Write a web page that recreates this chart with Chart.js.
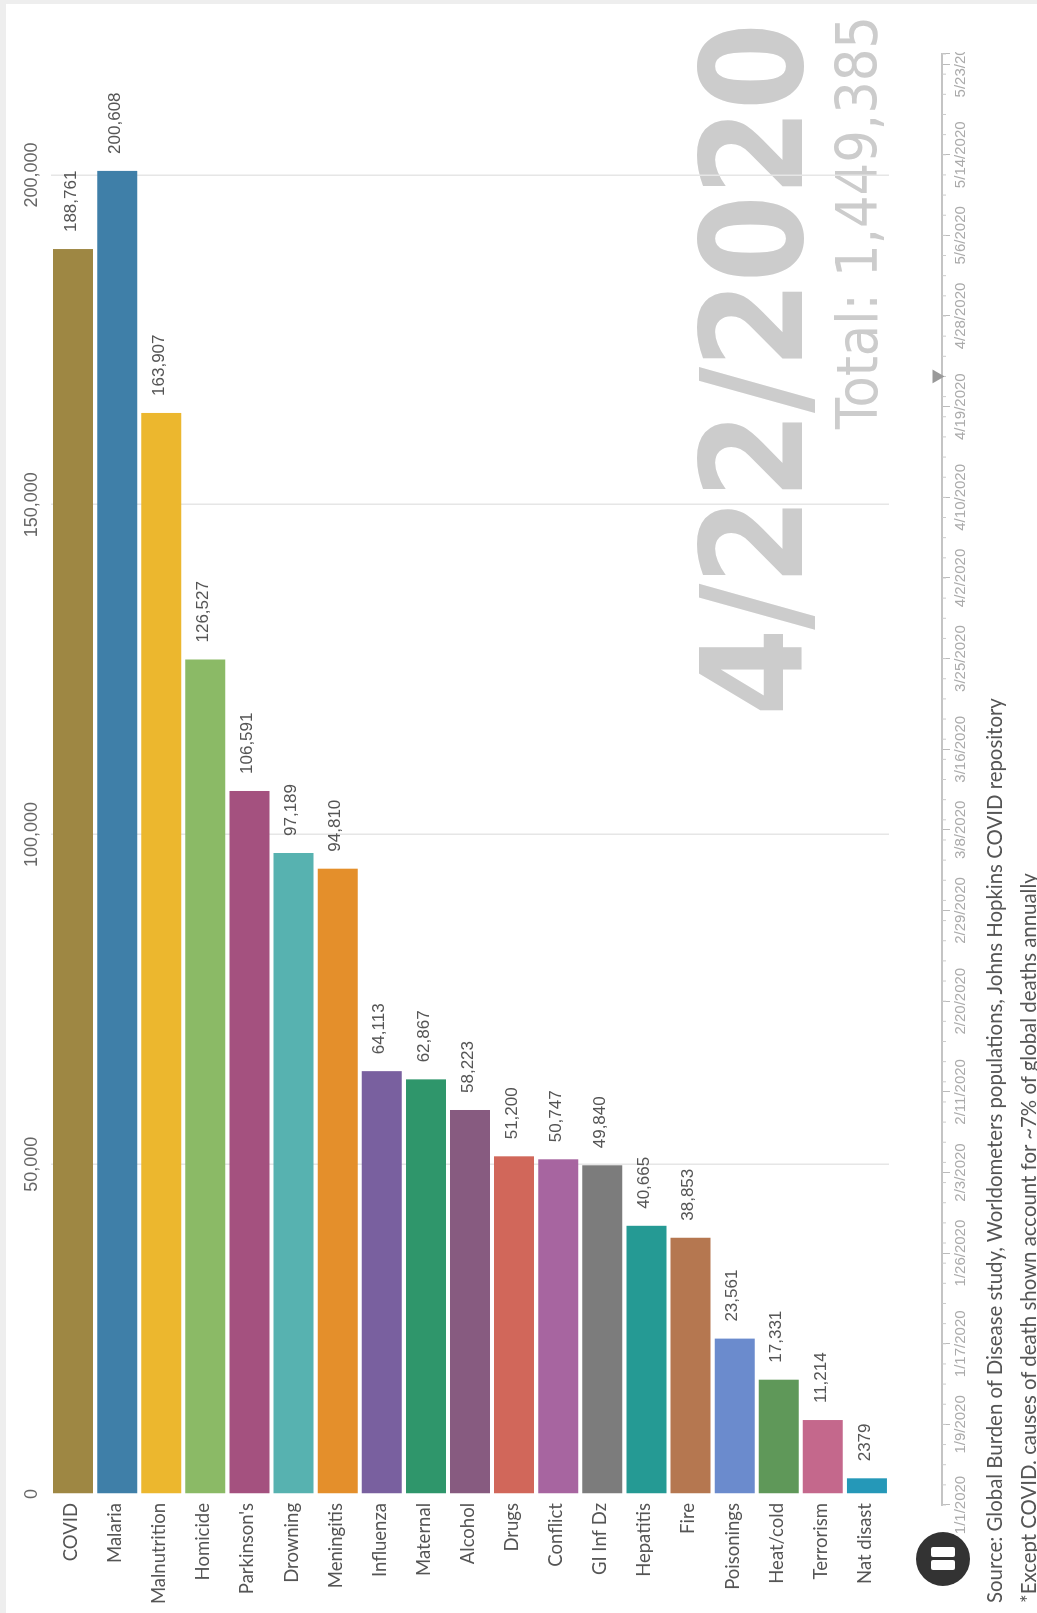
<!DOCTYPE html>
<html>
<head>
<meta charset="utf-8">
<title>Causes of death, 4/22/2020</title>
<script src="https://cdn.jsdelivr.net/npm/chart.js@4/dist/chart.umd.min.js"></script>
<style>
  html, body { margin: 0; padding: 0; background: #eeeeee; overflow: hidden; }
  /* the whole picture is a landscape page turned a quarter left */
  #stage {
    position: absolute; left: 0; top: 1613px; width: 1613px; height: 1037px;
    transform-origin: 0 0; transform: rotate(-90deg); background: #eeeeee; overflow: hidden;
  }
  #sheet { position: absolute; left: 0; top: 6px; width: 1609px; height: 1031px; background: #ffffff; }
  #main { position: absolute; left: 0; top: 0; }
  #timeline { position: absolute; left: 0; top: 920px; }
  .big { position: absolute; line-height: 1; white-space: nowrap; color: #cccccc; font-family: "DejaVu Sans Condensed", "DejaVu Sans"; }
  #date { right: 24px; top: 684px; font-size: 140px; font-weight: bold; letter-spacing: -1.5px; }
  #total { right: 16px; top: 829px; font-size: 57px; }
  .note { position: absolute; left: 10px; white-space: nowrap; font: 20.4px Lato, sans-serif; color: #555555; line-height: 1; }
  #pause { position: absolute; left: 27px; top: 916px; width: 54px; height: 54px; border-radius: 50%; background: #333333; }
  #pause i { position: absolute; top: 15px; width: 10px; height: 24px; border-radius: 2px; background: #ffffff; }
</style>
</head>
<body>
<div id="stage">
  <div id="sheet"></div>
  <div class="big" id="date">4/22/2020</div>
  <div class="big" id="total">Total: 1,449,385</div>
  <canvas id="main" width="1613" height="1037"></canvas>
  <canvas id="timeline" width="1561" height="60"></canvas>
  <div id="pause"><i style="left:16px"></i><i style="left:29px"></i></div>
  <div class="note" style="top:984px">Source: Global Burden of Disease study, Worldometers populations, Johns Hopkins COVID repository</div>
  <div class="note" style="top:1018px">*Except COVID. causes of death shown account for ~7% of global deaths annually</div>
</div>
<script>
const causes = ['COVID', 'Malaria', 'Malnutrition', 'Homicide', "Parkinson's", 'Drowning', 'Meningitis', 'Influenza', 'Maternal', 'Alcohol', 'Drugs', 'Conflict', 'GI Inf Dz', 'Hepatitis', 'Fire', 'Poisonings', 'Heat/cold', 'Terrorism', 'Nat disast'];
const deaths = [188761, 200608, 163907, 126527, 106591, 97189, 94810, 64113, 62867, 58223, 51200, 50747, 49840, 40665, 38853, 23561, 17331, 11214, 2379];
const barColors = ['#9e8743', '#3f7fa8', '#ecb72e', '#8bba66', '#a4517f', '#57b2b0', '#e48f2b', '#79609f', '#2f966b', '#875b80', '#d1675a', '#a765a0', '#7c7c7c', '#259a94', '#b57750', '#6b8bcd', '#5f9859', '#c4688c', '#2598b8'];
const valueTicks = [0, 50000, 100000, 150000, 200000];

// timeline: days since 1/1/2020
const dateTickDays = [0, 8, 16, 25, 33, 41, 50, 59, 67, 75, 84, 92, 100, 109, 118, 126, 134, 143, 144];
const dateTickLabels = ['1/1/2020', '1/9/2020', '1/17/2020', '1/26/2020', '2/3/2020', '2/11/2020', '2/20/2020', '2/29/2020', '3/8/2020', '3/16/2020', '3/25/2020', '4/2/2020', '4/10/2020', '4/19/2020', '4/28/2020', '5/6/2020', '5/14/2020', '5/23/2020', ''];
const currentDay = [112];

// number labels at the end of each bar
const barLabels = {
  id: 'barLabels',
  afterDatasetsDraw(chart) {
    const ctx = chart.ctx;
    ctx.save();
    ctx.font = '17px "Liberation Sans"';
    ctx.fillStyle = '#555555';
    ctx.textAlign = 'left';
    ctx.textBaseline = 'middle';
    chart.getDatasetMeta(0).data.forEach((bar, i) => {
      const v = deaths[i];
      ctx.fillText(v < 10000 ? String(v) : v.toLocaleString('en-US'), bar.x + 17, bar.y - 2);
    });
    ctx.restore();
  }
};

new Chart(document.getElementById('main'), {
  type: 'bar',
  data: {
    labels: causes,
    datasets: [{ data: deaths, backgroundColor: barColors, borderWidth: 0, barPercentage: 1, categoryPercentage: 0.907 }]
  },
  options: {
    indexAxis: 'y',
    responsive: false,
    animation: false,
    layout: { autoPadding: false, padding: { left: 0, top: 0, right: 43, bottom: 148 } },
    plugins: { legend: { display: false }, tooltip: { enabled: false } },
    scales: {
      x: {
        position: 'top',
        min: 0,
        max: 220000,
        afterFit: s => { s.height = 51; },
        afterBuildTicks: s => { s.ticks = valueTicks.map(v => ({ value: v })); },
        border: { display: false },
        grid: { color: c => c.tick.value === 0 ? 'transparent' : '#e6e6e6', lineWidth: 1.5, drawTicks: false },
        ticks: {
          autoSkip: false,
          padding: 8,
          maxRotation: 0,
          color: '#666666',
          font: { family: 'Liberation Sans', size: 18 },
          callback: v => v.toLocaleString('en-US')
        }
      },
      y: {
        afterFit: s => { s.width = 119; },
        border: { display: false },
        grid: { display: false },
        ticks: { autoSkip: false, padding: 1, labelOffset: -2, color: '#555555', font: { family: 'Lato', size: 18.5 } }
      }
    }
  },
  plugins: [barLabels]
});

// small ticks under the timeline line
const minorTicks = {
  id: 'minorTicks',
  beforeDatasetsDraw(chart) {
    const ctx = chart.ctx, x = chart.scales.x, bottom = chart.chartArea.bottom;
    ctx.save();
    ctx.strokeStyle = '#cccccc';
    ctx.lineWidth = 1;
    ctx.beginPath();
    for (let d = 0; d <= 144; d += 2) {
      ctx.moveTo(x.getPixelForValue(d), bottom);
      ctx.lineTo(x.getPixelForValue(d), bottom + 4);
    }
    ctx.stroke();
    ctx.restore();
  }
};

new Chart(document.getElementById('timeline'), {
  type: 'scatter',
  data: {
    datasets: [{
      data: currentDay.map(d => ({ x: d, y: 0.25 })),
      pointStyle: 'triangle',
      rotation: 180,
      radius: 8,
      backgroundColor: '#999999',
      borderWidth: 0,
      clip: false
    }]
  },
  options: {
    responsive: false,
    animation: false,
    layout: { autoPadding: false, padding: { left: 108, top: 0, right: 0, bottom: 0 } },
    plugins: { legend: { display: false }, tooltip: { enabled: false } },
    scales: {
      x: {
        type: 'linear',
        min: 0,
        max: 144,
        afterFit: s => { s.height = 38; },
        afterBuildTicks: s => { s.ticks = dateTickDays.map(v => ({ value: v })); },
        border: { color: '#c4c4c4', width: 2 },
        grid: { drawOnChartArea: false, color: '#bbbbbb', tickLength: 8 },
        ticks: {
          autoSkip: false,
          maxRotation: 0,
          padding: 2,
          color: '#aaaaaa',
          font: { family: 'Liberation Sans', size: 15 },
          callback: v => dateTickLabels[dateTickDays.indexOf(v)]
        }
      },
      y: { display: false, min: 0, max: 1 }
    }
  },
  plugins: [minorTicks]
});
</script>
</body>
</html>
